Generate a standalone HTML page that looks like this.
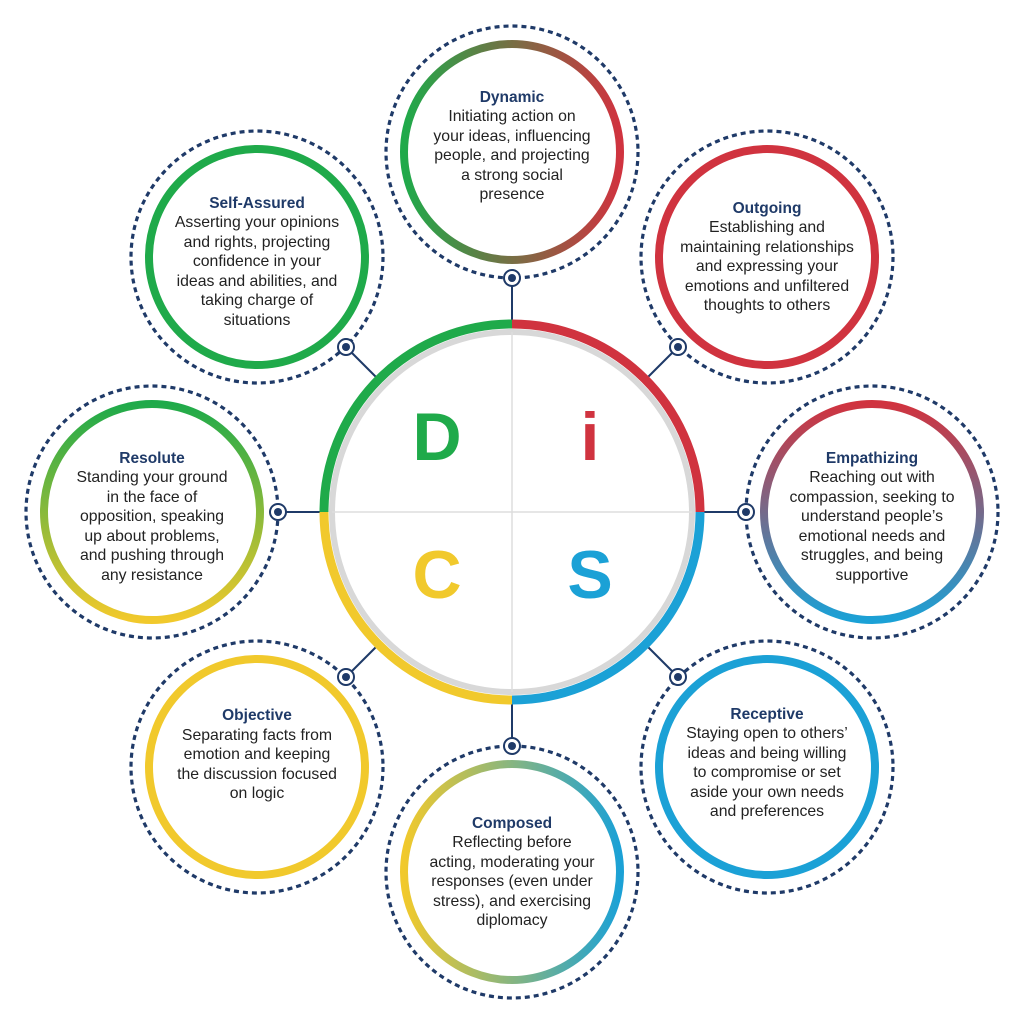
<!DOCTYPE html>
<html><head><meta charset="utf-8"><style>
body{margin:0;background:#fff;width:1022px;height:1024px;position:relative;overflow:hidden;font-family:"Liberation Sans",sans-serif}
.t{position:absolute;width:220px;height:200px;display:flex;flex-direction:column;justify-content:center;align-items:center;text-align:center;font-size:15.8px;line-height:19.5px;color:#222;white-space:nowrap}
.t b{color:#1f3a68;font-size:15.5px}
.L{position:absolute;font-weight:bold;font-size:68px;font-family:"Liberation Sans",sans-serif;transform:translate(-50%,-50%)}
</style></head><body>
<svg width="1022" height="1024" style="position:absolute;left:0;top:0">
<defs>
<linearGradient id="gDyn" x1="0" y1="0" x2="1" y2="0"><stop offset="0" stop-color="#1faa4a"/><stop offset="1" stop-color="#d0333f"/></linearGradient>
<linearGradient id="gEmp" x1="0" y1="0" x2="0" y2="1"><stop offset="0" stop-color="#d0333f"/><stop offset="1" stop-color="#1ba1d6"/></linearGradient>
<linearGradient id="gCom" x1="0" y1="0" x2="1" y2="0"><stop offset="0" stop-color="#f1c92c"/><stop offset="1" stop-color="#1ba1d6"/></linearGradient>
<linearGradient id="gRes" x1="0" y1="0" x2="0" y2="1"><stop offset="0" stop-color="#1faa4a"/><stop offset="1" stop-color="#f1c92c"/></linearGradient>
</defs>
<g stroke="#1f3a68" stroke-width="2">
<line x1="512" y1="278" x2="512" y2="320"/>
<line x1="678" y1="347" x2="648" y2="377"/>
<line x1="746" y1="512" x2="704" y2="512"/>
<line x1="678" y1="677" x2="648" y2="647"/>
<line x1="512" y1="746" x2="512" y2="704"/>
<line x1="346" y1="677" x2="376" y2="647"/>
<line x1="278" y1="512" x2="320" y2="512"/>
<line x1="346" y1="347" x2="376" y2="377"/>
</g>
<circle cx="512" cy="512" r="180" fill="#fff" stroke="#d8d8d8" stroke-width="6"/>
<line x1="332" y1="512" x2="692" y2="512" stroke="#ddd" stroke-width="1.5"/>
<line x1="512" y1="332" x2="512" y2="692" stroke="#ddd" stroke-width="1.5"/>
<path d="M324 512 A188 188 0 0 1 512 324" fill="none" stroke="#1faa4a" stroke-width="9"/>
<path d="M512 324 A188 188 0 0 1 700 512" fill="none" stroke="#d0333f" stroke-width="9"/>
<path d="M700 512 A188 188 0 0 1 512 700" fill="none" stroke="#1ba1d6" stroke-width="9"/>
<path d="M512 700 A188 188 0 0 1 324 512" fill="none" stroke="#f1c92c" stroke-width="9"/>
<g fill="none" stroke="#1f3a68" stroke-width="3.2" stroke-dasharray="5 4">
<circle cx="512" cy="152" r="126"/><circle cx="767" cy="257" r="126"/><circle cx="872" cy="512" r="126"/><circle cx="767" cy="767" r="126"/>
<circle cx="512" cy="872" r="126"/><circle cx="257" cy="767" r="126"/><circle cx="152" cy="512" r="126"/><circle cx="257" cy="257" r="126"/>
</g>
<g fill="#fff" stroke-width="8">
<circle cx="512" cy="152" r="108" stroke="url(#gDyn)"/>
<circle cx="767" cy="257" r="108" stroke="#d0333f"/>
<circle cx="872" cy="512" r="108" stroke="url(#gEmp)"/>
<circle cx="767" cy="767" r="108" stroke="#1ba1d6"/>
<circle cx="512" cy="872" r="108" stroke="url(#gCom)"/>
<circle cx="257" cy="767" r="108" stroke="#f1c92c"/>
<circle cx="152" cy="512" r="108" stroke="url(#gRes)"/>
<circle cx="257" cy="257" r="108" stroke="#1faa4a"/>
</g>
<g fill="#fff" stroke="#1f3a68" stroke-width="2">
<circle cx="512" cy="278" r="8"/><circle cx="678" cy="347" r="8"/><circle cx="746" cy="512" r="8"/><circle cx="678" cy="677" r="8"/>
<circle cx="512" cy="746" r="8"/><circle cx="346" cy="677" r="8"/><circle cx="278" cy="512" r="8"/><circle cx="346" cy="347" r="8"/>
</g>
<g fill="#1f3a68">
<circle cx="512" cy="278" r="4"/><circle cx="678" cy="347" r="4"/><circle cx="746" cy="512" r="4"/><circle cx="678" cy="677" r="4"/>
<circle cx="512" cy="746" r="4"/><circle cx="346" cy="677" r="4"/><circle cx="278" cy="512" r="4"/><circle cx="346" cy="347" r="4"/>
</g>
</svg>
<div class="L" style="left:437px;top:437px;color:#1faa4a">D</div>
<div class="L" style="left:590px;top:437px;color:#d0333f">i</div>
<div class="L" style="left:437px;top:575px;color:#f1c92c">C</div>
<div class="L" style="left:590px;top:575px;color:#1ba1d6">S</div>

<div class="t" style="left:402px;top:46px"><b>Dynamic</b>Initiating action on<br>your ideas, influencing<br>people, and projecting<br>a strong social<br>presence</div>
<div class="t" style="left:657px;top:157px"><b>Outgoing</b>Establishing and<br>maintaining relationships<br>and expressing your<br>emotions and unfiltered<br>thoughts to others</div>
<div class="t" style="left:762px;top:417px"><b>Empathizing</b>Reaching out with<br>compassion, seeking to<br>understand people’s<br>emotional needs and<br>struggles, and being<br>supportive</div>
<div class="t" style="left:657px;top:663px"><b>Receptive</b>Staying open to others’<br>ideas and being willing<br>to compromise or set<br>aside your own needs<br>and preferences</div>
<div class="t" style="left:402px;top:772px"><b>Composed</b>Reflecting before<br>acting, moderating your<br>responses (even under<br>stress), and exercising<br>diplomacy</div>
<div class="t" style="left:147px;top:655px"><b>Objective</b>Separating facts from<br>emotion and keeping<br>the discussion focused<br>on logic</div>
<div class="t" style="left:42px;top:417px"><b>Resolute</b>Standing your ground<br>in the face of<br>opposition, speaking<br>up about problems,<br>and pushing through<br>any resistance</div>
<div class="t" style="left:147px;top:162px"><b>Self-Assured</b>Asserting your opinions<br>and rights, projecting<br>confidence in your<br>ideas and abilities, and<br>taking charge of<br>situations</div>
</body></html>
